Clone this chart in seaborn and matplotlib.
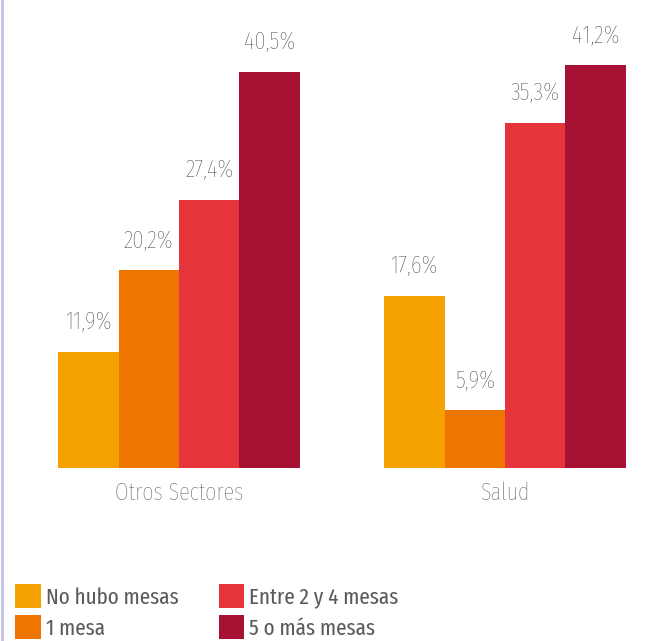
import matplotlib
matplotlib.use("Agg")
import matplotlib.pyplot as plt
from matplotlib.lines import Line2D
import seaborn as sns
import pandas as pd

# Share of respondents by number of tables, per sector
sectors = ["Otros Sectores", "Salud"]
categories = ["No hubo mesas", "1 mesa", "Entre 2 y 4 mesas", "5 o más mesas"]
otros_values = [11.9, 20.2, 27.4, 40.5]
salud_values = [17.6, 5.9, 35.3, 41.2]
colors = ["#F5A200", "#EE7600", "#E5353B", "#A51234"]

df = pd.DataFrame({
    "sector": [sectors[0]] * 4 + [sectors[1]] * 4,
    "categoria": categories * 2,
    "valor": otros_values + salud_values,
})

sns.set_theme(style="white")
plt.rcParams["font.family"] = ["Fira Sans Extra Condensed", "DejaVu Sans"]
plt.rcParams["font.weight"] = "light"

W, H = 659, 641
fig = plt.figure(figsize=(W / 100, H / 100), dpi=100)
base_px = 468
ax = fig.add_axes([0, (H - base_px) / H, 1, base_px / H])

sns.barplot(data=df, x="sector", y="valor", hue="categoria",
            hue_order=categories, order=sectors, palette=colors,
            width=0.742, gap=0, saturation=1, ax=ax, legend=False,
            linewidth=0, errorbar=None)

px_per_unit = (base_px - 72) / 40.5
ax.set_ylim(0, base_px / px_per_unit)
ax.set_xlim(-179 / 326, (W - 179) / 326)

for cont in ax.containers:
    labels = [f"{v:.1f}%".replace(".", ",") for v in cont.datavalues]
    ax.bar_label(cont, labels=labels, padding=13, fontsize=18,
                 color="#444444", fontweight="light")

ax.set_xlabel("")
ax.set_ylabel("")
ax.set_yticks([])
ax.tick_params(axis="x", length=0, pad=10, labelsize=17.5,
               labelcolor="#505050")
for s in ax.spines.values():
    s.set_visible(False)

# thin lavender rule on the left edge
fig.add_artist(Line2D([2 / W, 2 / W], [0, 1], transform=fig.transFigure,
                      color="#C3C1E3", linewidth=2))

handles = [plt.Rectangle((0, 0), 1, 1, facecolor=c, edgecolor="none")
           for c in colors]
fig.legend(handles, categories, ncol=2, loc="upper left",
           bbox_to_anchor=(15 / W, 1 - 584 / H), frameon=False,
           prop={"size": 16.5, "weight": "normal"}, labelcolor="#5a5a5a",
           handlelength=1.12, handleheight=1.22, handletextpad=0.22,
           columnspacing=1.75, labelspacing=0.3, borderaxespad=0,
           borderpad=0)

fig.savefig("out.png", dpi=100)
